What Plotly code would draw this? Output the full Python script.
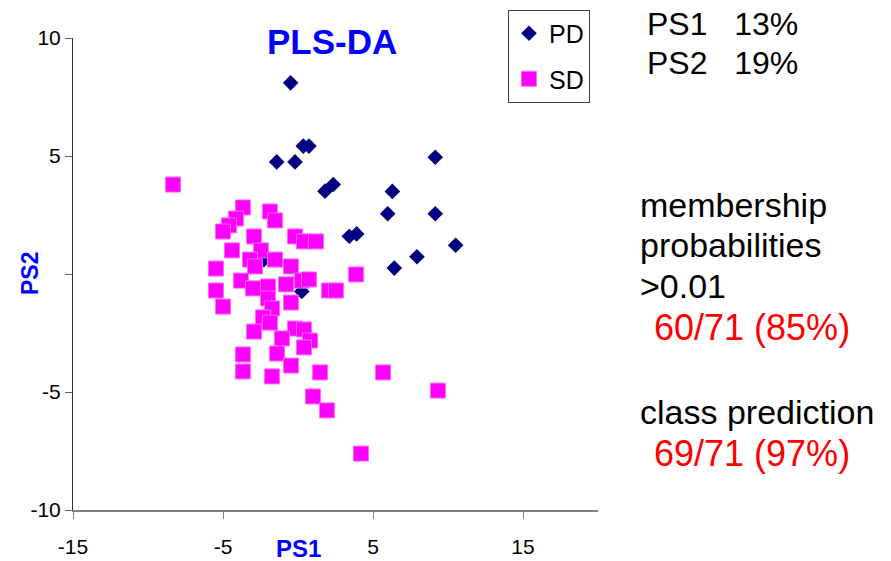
import plotly.graph_objects as go

# PD class scores (PS1, PS2)
pd_x = [-0.49, -1.42, -0.2, 0.35, 0.73, 9.15, 1.8, 2.35, 6.29, 5.98, 9.15, 3.42, 3.91, 10.51, 7.93, 6.42, 0.25, -2.27]
pd_y = [8.10, 4.75, 4.75, 5.42, 5.42, 4.95, 3.51, 3.79, 3.50, 2.55, 2.55, 1.60, 1.70, 1.22, 0.73, 0.25, -0.74, 0.61]

# SD class scores (PS1, PS2)
sd_x = [-8.33, -3.67, -4.13, -4.6, -5.0, -1.87, -1.53, -2.93, -0.2, 0.4, 1.2, -4.4, -2.47, -3.2, -2.87,
        -1.53, -5.47, -0.47, -3.8, -3.0, -2.0, -0.8, 0.27, 0.73, -5.47, 2.07, 2.53, 3.87, -5.0, -2.0,
        -1.73, -0.47, -2.33, -1.87, -2.93, -0.2, 0.4, 0.8, -1.07, 0.4, -3.67, -1.4, -3.67, -1.73, -0.47,
        1.47, 5.67, 9.33, 1.0, 1.93, 4.2]
sd_y = [3.79, 2.82, 2.35, 2.06, 1.80, 2.65, 2.27, 1.59, 1.59, 1.38, 1.38, 1.0, 1.0, 0.61, 0.32,
        0.61, 0.23, 0.32, -0.28, -0.61, -0.53, -0.44, -0.28, -0.23, -0.70, -0.70, -0.70, -0.02, -1.38, -1.04,
        -1.46, -1.21, -1.84, -2.06, -2.44, -2.31, -2.35, -2.82, -2.73, -3.11, -3.41, -3.37, -4.13, -4.34, -3.88,
        -4.17, -4.17, -4.94, -5.19, -5.78, -7.61]

x_ticks = [-15, -5, 5, 15]
y_ticks = [-10, -5, 0, 5, 10]
y_ticktext = ["-10", "-5", "", "5", "10"]

side_texts = ["PS1   13%", "PS2   19%", "membership", "probabilities", ">0.01",
              "60/71 (85%)", "class prediction", "69/71 (97%)"]

FONT = "Liberation Sans, Arial, sans-serif"

# page offset of the figure div (default body margin)
OFF = 8
FIG_W, FIG_H = 891 - OFF, 561 - OFF
# plot area in page pixels
PL, PR, PT, PB = 73, 598, 38, 510
W = PR - PL
H = PB - PT


def px_to_paper(px, py):
    return (px - PL) / W, (PB - py) / H


fig = go.Figure()
fig.add_trace(go.Scatter(
    x=pd_x, y=pd_y, mode="markers", name="PD", legendgroup="PD",
    marker=dict(symbol="diamond", size=12, color="#000080", line=dict(width=0)),
))
fig.add_trace(go.Scatter(
    x=sd_x, y=sd_y, mode="markers", name="SD", legendgroup="SD",
    marker=dict(symbol="square", size=15, color="#FF00FF", line=dict(width=1, color="#FF66FF")),
))

lx, ly = px_to_paper(508, 9.5)
fig.update_layout(
    width=FIG_W, height=FIG_H,
    margin=dict(l=PL - OFF, r=FIG_W - (PR - OFF), t=PT - OFF, b=FIG_H - (PB - OFF), autoexpand=False),
    paper_bgcolor="white", plot_bgcolor="white",
    font=dict(family=FONT, size=21, color="black"),
    showlegend=True,
    legend=dict(
        x=lx, y=ly, xanchor="left", yanchor="top",
        bordercolor="#404040", borderwidth=1, bgcolor="white",
        font=dict(size=25, family=FONT), tracegroupgap=10,
        traceorder="grouped", itemwidth=30,
    ),
    xaxis=dict(
        range=[-15, 20], tickvals=x_ticks, ticktext=[str(v) for v in x_ticks],
        showline=True, linecolor="#808080", linewidth=2,
        ticks="outside", ticklen=7, tickcolor="#808080", tickwidth=1,
        showgrid=False, zeroline=False, tickfont=dict(size=21),
        ticklabelstandoff=10,
    ),
    yaxis=dict(
        range=[-10, 10], tickvals=y_ticks, ticktext=y_ticktext,
        showline=True, linecolor="#303030", linewidth=1,
        ticks="outside", ticklen=7, tickcolor="#606060", tickwidth=1,
        showgrid=False, zeroline=False, tickfont=dict(size=21),
    ),
)

ann = []
tx, ty = px_to_paper(332, 42)
ann.append(dict(text="<b>PLS-DA</b>", x=tx, y=ty, xref="paper", yref="paper",
                xanchor="center", yanchor="middle", showarrow=False,
                font=dict(size=35, color="#0000FF", family=FONT)))
_, py1 = px_to_paper(0, 548)
ann.append(dict(text="<b>PS1</b>", x=0, y=py1, xref="x", yref="paper",
                xanchor="center", yanchor="middle", showarrow=False,
                font=dict(size=24, color="#0000FF", family=FONT)))
px2, _ = px_to_paper(30, 0)
ann.append(dict(text="<b>PS2</b>", x=px2, y=0, xref="paper", yref="y",
                xanchor="center", yanchor="middle", showarrow=False, textangle=-90,
                font=dict(size=23, color="#0000FF", family=FONT)))

side_pos = [(645, 24), (645, 63), (638, 205), (638, 245), (638, 286),
            (652, 328), (638, 412), (652, 453)]
side_size = [32, 32, 34, 34, 34, 36, 34, 36]
for i, t in enumerate(side_texts):
    col = "#FF0000" if i in (5, 7) else "black"
    xp, yp = px_to_paper(*side_pos[i])
    ann.append(dict(text=t, x=xp, y=yp, xref="paper", yref="paper",
                    xanchor="left", yanchor="middle", showarrow=False,
                    font=dict(size=side_size[i], color=col, family=FONT)))
fig.update_layout(annotations=ann)

fig.write_html("out.html")
